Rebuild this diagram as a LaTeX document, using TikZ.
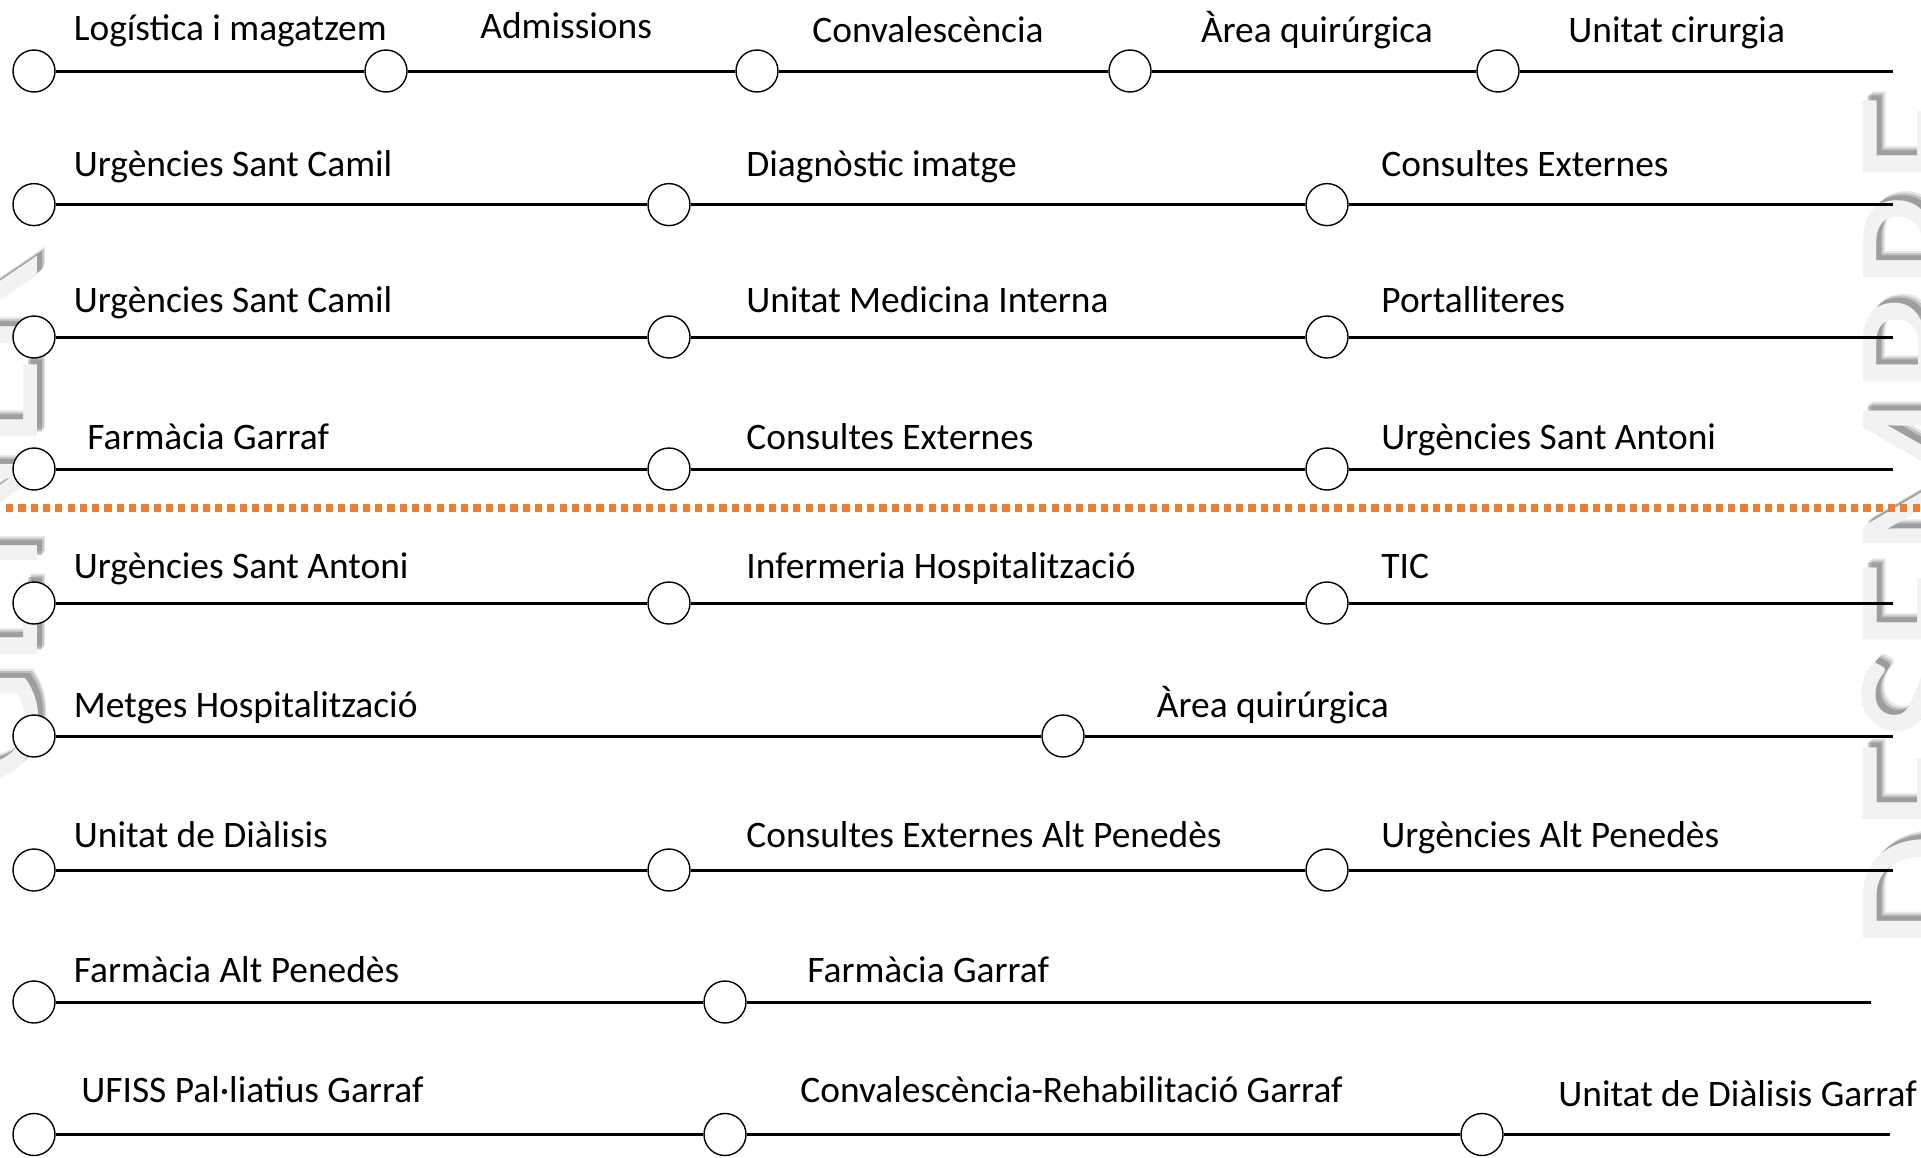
\documentclass[tikz,border=0pt]{standalone}
\usepackage{fontspec}
\setmainfont{Carlito}
\begin{document}
\begin{tikzpicture}[x=0.5pt,y=-0.5pt,
  stn/.style={circle,draw=black,line width=0.7pt,fill=white,minimum size=21pt,inner sep=0pt},
  lbl/.style={anchor=base west,inner sep=0pt,font=\fontsize{18.7pt}{22pt}\selectfont},
  track/.style={line width=1.5pt,black},
  wm/.style={rotate=90,anchor=base west,inner sep=0pt,font=\fontsize{96pt}{100pt}\selectfont},
  divider/.style={line width=4pt,color={rgb,255:red,237;green,125;blue,49},dash pattern=on 3.6pt off 2.55pt}
]
\useasboundingbox (0,0) rectangle (1921,1157);
% watermark (background)
\foreach \d/\o in {9/0.15,7/0.25,5/0.35} {
  \node[wm,text=black!65,opacity=\o] (wmRs\d) at (1986+\d,952-\d) {DESEMBRE};
  \node[wm,text=black!65,opacity=\o] (wmLs\d) at (37+\d,790-\d) {GENER};
}
\node[wm,text=black!5] (wmR) at (1986,952) {DESEMBRE};
\node[wm,text=black!5] (wmL) at (37,790) {GENER};
% divider
\coordinate (dvA) at (6,508);
\coordinate (dvB) at (1921,508);
\draw[divider] (dvA) -- (dvB);
% row 1
\node[stn] (r1a) at (34,71) {};
\node[stn] (r1b) at (386,71) {};
\node[stn] (r1c) at (757,71) {};
\node[stn] (r1d) at (1130,71) {};
\node[stn] (r1f) at (1498,71) {};
\coordinate (r1e) at (1893,71);
\draw[track] (r1a) -- (r1b) -- (r1c) -- (r1d) -- (r1f) -- (r1e);
\node[lbl] (t1a) at (73.5,40) {Logística i magatzem};
\node[lbl] (t1b) at (480,38) {Admissions};
\node[lbl] (t1c) at (812,42) {Convalescència};
\node[lbl] (t1d) at (1200.6,42) {Àrea quirúrgica};
\node[lbl] (t1f) at (1568,42) {Unitat cirurgia};
% row 2
\node[stn] (r2a) at (34,204.6) {};
\node[stn] (r2b) at (669,204.6) {};
\node[stn] (r2c) at (1327,204.6) {};
\coordinate (r2e) at (1893,204.6);
\draw[track] (r2a) -- (r2b) -- (r2c) -- (r2e);
\node[lbl] (t2a) at (73.5,176) {Urgències Sant Camil};
\node[lbl] (t2b) at (746,176) {Diagnòstic imatge};
\node[lbl] (t2c) at (1381,176) {Consultes Externes};
% row 3
\node[stn] (r3a) at (34,337) {};
\node[stn] (r3b) at (669,337) {};
\node[stn] (r3c) at (1327,337) {};
\coordinate (r3e) at (1893,337);
\draw[track] (r3a) -- (r3b) -- (r3c) -- (r3e);
\node[lbl] (t3a) at (73.5,312) {Urgències Sant Camil};
\node[lbl] (t3b) at (746,312) {Unitat Medicina Interna};
\node[lbl] (t3c) at (1381,312) {Portalliteres};
% row 4
\node[stn] (r4a) at (34,469) {};
\node[stn] (r4b) at (669,469) {};
\node[stn] (r4c) at (1327,469) {};
\coordinate (r4e) at (1893,469);
\draw[track] (r4a) -- (r4b) -- (r4c) -- (r4e);
\node[lbl] (t4a) at (87,449) {Farmàcia Garraf};
\node[lbl] (t4b) at (746,449) {Consultes Externes};
\node[lbl] (t4c) at (1381,449) {Urgències Sant Antoni};
% row 5
\node[stn] (r5a) at (34,603) {};
\node[stn] (r5b) at (669,603) {};
\node[stn] (r5c) at (1327,603) {};
\coordinate (r5e) at (1893,603);
\draw[track] (r5a) -- (r5b) -- (r5c) -- (r5e);
\node[lbl] (t5a) at (73.5,578) {Urgències Sant Antoni};
\node[lbl] (t5b) at (746,578) {Infermeria Hospitalització};
\node[lbl] (t5c) at (1381,578) {TIC};
% row 6
\node[stn] (r6a) at (34,736) {};
\node[stn] (r6b) at (1063,736) {};
\coordinate (r6e) at (1893,736);
\draw[track] (r6a) -- (r6b) -- (r6e);
\node[lbl] (t6a) at (73.5,717) {Metges Hospitalització};
\node[lbl] (t6b) at (1156.5,717) {Àrea quirúrgica};
% row 7
\node[stn] (r7a) at (34,870) {};
\node[stn] (r7b) at (669,870) {};
\node[stn] (r7c) at (1327,870) {};
\coordinate (r7e) at (1893,870);
\draw[track] (r7a) -- (r7b) -- (r7c) -- (r7e);
\node[lbl] (t7a) at (73.5,847) {Unitat de Diàlisis};
\node[lbl] (t7b) at (746,847) {Consultes Externes Alt Penedès};
\node[lbl] (t7c) at (1381,847) {Urgències Alt Penedès};
% row 8
\node[stn] (r8a) at (34,1002) {};
\node[stn] (r8b) at (725,1002) {};
\coordinate (r8e) at (1871,1002);
\draw[track] (r8a) -- (r8b) -- (r8e);
\node[lbl] (t8a) at (73.5,982) {Farmàcia Alt Penedès};
\node[lbl] (t8b) at (807,982) {Farmàcia Garraf};
% row 9
\node[stn] (r9a) at (34,1134.5) {};
\node[stn] (r9b) at (725,1134.5) {};
\node[stn] (r9c) at (1482,1134.5) {};
\coordinate (r9e) at (1890,1134.5);
\draw[track] (r9a) -- (r9b) -- (r9c) -- (r9e);
\node[lbl] (t9a) at (81,1102.6) {UFISS Pal·liatius Garraf};
\node[lbl] (t9b) at (800,1102.6) {Convalescència-Rehabilitació Garraf};
\node[lbl] (t9c) at (1558,1106) {Unitat de Diàlisis Garraf};
\end{tikzpicture}
\end{document}
